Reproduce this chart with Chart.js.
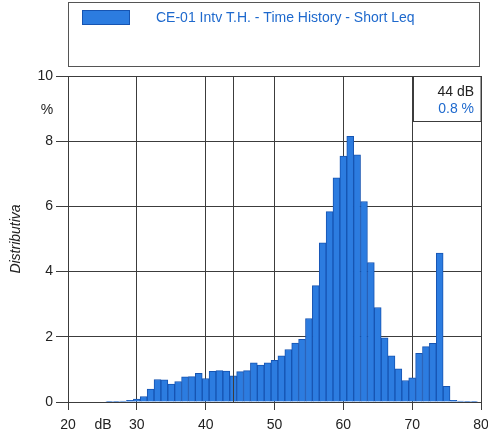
<!DOCTYPE html>
<html>
<head>
<meta charset="utf-8">
<script src="https://cdn.jsdelivr.net/npm/chart.js@4.4.1/dist/chart.umd.min.js"></script>
<style>
    body { margin: 0; background: #ffffff; }
    #wrap { width: 488px; height: 434px; }
</style>
</head>
<body>
<div id="wrap"><canvas id="histo" width="488" height="434"></canvas></div>
<script>
// level classes (dB) and percentage of time in each class
const levels = [26, 27, 28, 29, 30, 31, 32, 33, 34, 35, 36, 37, 38, 39, 40, 41, 42, 43, 44, 45,
                46, 47, 48, 49, 50, 51, 52, 53, 54, 55, 56, 57, 58, 59, 60, 61, 62, 63, 64, 65,
                66, 67, 68, 69, 70, 71, 72, 73, 74, 75, 76, 77, 78, 79];
const percents = [0.01, 0.02, 0.03, 0.05, 0.09, 0.17, 0.40, 0.69, 0.68, 0.55, 0.63, 0.77, 0.78, 0.88, 0.72, 0.94, 0.96, 0.95, 0.80, 0.93,
                  0.96, 1.20, 1.13, 1.20, 1.28, 1.42, 1.61, 1.81, 1.92, 2.56, 3.57, 4.88, 5.84, 6.88, 7.54, 8.15, 7.58, 6.15, 4.28, 2.90,
                  1.97, 1.42, 1.02, 0.66, 0.74, 1.49, 1.70, 1.80, 4.57, 0.48, 0.05, 0.03, 0.02, 0.01];
const xTicks = [20, 30, 40, 50, 60, 70, 80];
const yTicks = [0, 2, 4, 6, 8, 10];
const seriesName = "CE-01 Intv T.H. - Time History - Short Leq";
const cursorLevel = 44;
const cursorValue = 0.8;

const fontName = "'Liberation Sans', Arial, sans-serif";
const gridColor = '#3c3c3c';
const barFill = 'rgb(44,124,224)';
const barEdge = 'rgb(22,84,178)';
const blueText = 'rgb(30,105,205)';

let points = [];
for (let i = 0; i < levels.length; i++) {
    points.push({x: levels[i], y: percents[i]});
}

const extrasPlugin = {
    id: 'extras',
    afterDatasetsDraw(chart) {
        // cursor line at the selected level, drawn over the bars
        let ctx = chart.ctx;
        let area = chart.chartArea;
        let cx = Math.round(chart.scales.x.getPixelForValue(cursorLevel)) + 0.5;
        ctx.save();
        ctx.strokeStyle = gridColor;
        ctx.lineWidth = 1;
        ctx.beginPath();
        ctx.moveTo(cx, area.top);
        ctx.lineTo(cx, area.bottom);
        ctx.stroke();
        ctx.restore();
    },
    afterDraw(chart) {
        let ctx = chart.ctx;
        let area = chart.chartArea;
        ctx.save();

        // legend frame
        ctx.strokeStyle = '#555';
        ctx.lineWidth = 1;
        ctx.strokeRect(68.5, 2.5, 411, 64);
        ctx.fillStyle = barFill;
        ctx.strokeStyle = barEdge;
        ctx.fillRect(82, 10, 48, 15);
        ctx.strokeRect(82.5, 10.5, 47, 14);
        ctx.fillStyle = blueText;
        ctx.font = '14px ' + fontName;
        ctx.textAlign = 'left';
        ctx.textBaseline = 'middle';
        ctx.fillText(chart.data.datasets[0].label, 156, 18);

        // cursor readout box
        let bx = 413.5;
        let by = area.top + 0.5;
        ctx.fillStyle = '#ffffff';
        ctx.fillRect(bx, by, area.right - bx, 45);
        ctx.strokeStyle = gridColor;
        ctx.strokeRect(bx, by, area.right - bx, 45);
        ctx.textAlign = 'right';
        ctx.fillStyle = '#222';
        ctx.fillText(cursorLevel + ' dB', 474, 92);
        ctx.fillStyle = blueText;
        ctx.fillText(cursorValue + ' %', 474, 109);

        // unit labels
        ctx.fillStyle = '#222';
        ctx.textAlign = 'center';
        ctx.fillText('%', 47, 110);
        ctx.fillText('dB', 103, 425);
        ctx.restore();
    }
};

function setupChart() {
    let ctx = document.getElementById('histo').getContext('2d');

    let histo = new Chart(ctx, {
        type: 'bar',
        data: {
            datasets: [
                {
                    label: seriesName,
                    data: points,
                    backgroundColor: barFill,
                    borderColor: barEdge,
                    borderWidth: 1,
                    barPercentage: 1,
                    categoryPercentage: 1
                }
            ]
        },
        options: {
            responsive: false,
            animation: false,
            layout: {
                padding: {top: 76, right: 7, left: 0, bottom: 0}
            },
            plugins: {
                legend: { display: false },
                tooltip: { enabled: false }
            },
            scales: {
                x: {
                    type: 'linear',
                    min: xTicks[0],
                    max: xTicks[xTicks.length - 1],
                    offset: false,
                    afterBuildTicks: function(scale) {
                        scale.ticks = xTicks.map(v => ({value: v}));
                    },
                    afterFit: function(scale) {
                        scale.height = 32;
                        scale.paddingLeft = 0;
                        scale.paddingRight = 0;
                    },
                    grid: {
                        offset: false,
                        color: gridColor,
                        lineWidth: 1,
                        tickLength: 8
                    },
                    border: { color: gridColor, width: 1 },
                    ticks: {
                        color: '#222',
                        font: {family: fontName, size: 14},
                        padding: 7,
                        maxRotation: 0
                    }
                },
                y: {
                    min: yTicks[0],
                    max: yTicks[yTicks.length - 1],
                    afterBuildTicks: function(scale) {
                        scale.ticks = yTicks.map(v => ({value: v}));
                    },
                    afterFit: function(scale) {
                        scale.width = 68;
                    },
                    grid: {
                        color: gridColor,
                        lineWidth: 1,
                        tickLength: 12
                    },
                    border: { color: gridColor, width: 1 },
                    ticks: {
                        color: '#222',
                        font: {family: fontName, size: 14},
                        padding: 3
                    },
                    title: {
                        display: true,
                        text: 'Distributiva',
                        color: '#222',
                        font: {family: fontName, size: 14, style: 'italic'},
                        padding: {top: 8, bottom: 0}
                    }
                }
            }
        },
        plugins: [extrasPlugin]
    });
}

setupChart();
</script>
</body>
</html>
